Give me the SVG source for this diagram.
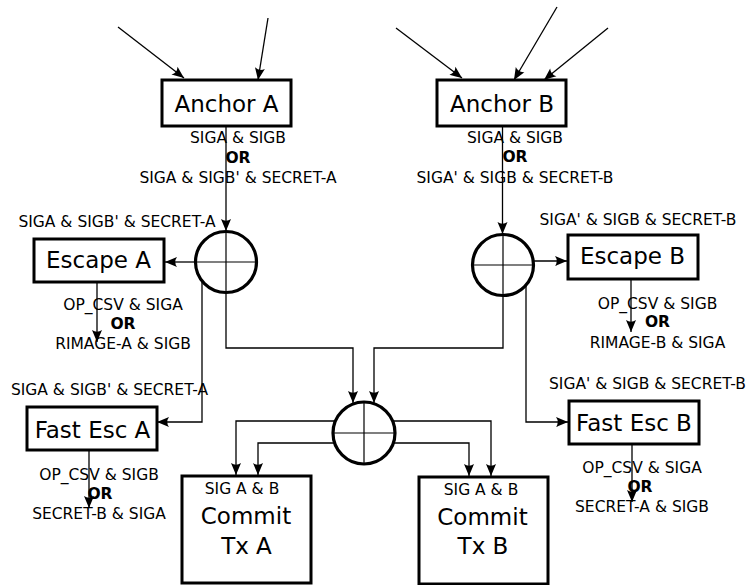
<svg xmlns="http://www.w3.org/2000/svg" width="749" height="585" viewBox="0 0 749 585">
<style>
.box{fill:#fff;stroke:#000;stroke-width:3}
.circ{fill:none;stroke:#000;stroke-width:3.2}
.cross{stroke:#000;stroke-width:1.2;fill:none}
.c{fill:none;stroke:#000;stroke-width:1.3}
.t{font-family:"DejaVu Sans",sans-serif;font-size:23px;text-anchor:middle;fill:#000}
.l{font-family:"DejaVu Sans",sans-serif;font-size:15.5px;text-anchor:middle;fill:#000}
.b{font-weight:bold}
</style>
<defs>
<marker id="ah" markerUnits="userSpaceOnUse" markerWidth="14" markerHeight="12" refX="12" refY="5" orient="auto" overflow="visible">
<path d="M0,0 Q6,2.5 12,5 Q6,7.5 0,10 Q3.5,5 0,0 Z" fill="#000"/>
</marker>
</defs>
<g id="connectors" class="c" marker-end="url(#ah)">
<path d="M118,27 L184,78"/>
<path d="M268,18 L258,80"/>
<path d="M396,28 L462,78"/>
<path d="M557,7 L514,80"/>
<path d="M608,28 L544,80"/>
<path d="M226,126 L226,231"/>
<path d="M502.5,126 L502.5,234"/>
<path d="M195,262 L165,262"/>
<path d="M534,261 L567,261"/>
<path d="M97,282 L97,342"/>
<path d="M631,279 L631,332"/>
<path d="M202,281 L202,422 L157,422"/>
<path d="M526,286 L526,422 L568,422"/>
<path d="M226,293 L226,348 L353,348 L353,403"/>
<path d="M503,296 L503,348 L374,348 L374,403"/>
<path d="M89,451 L89,508"/>
<path d="M632,444 L632,502"/>
<path d="M335,421 L236,421 L236,475"/>
<path d="M335,443 L258,443 L258,475"/>
<path d="M393,421 L491,421 L491,476"/>
<path d="M393,443 L469,443 L469,476"/>
</g>
<g id="anchorA"><rect class="box" x="162" y="80" width="129" height="46"/><text class="t" x="226.5" y="112">Anchor A</text></g>
<g id="anchorB"><rect class="box" x="437" y="80" width="129" height="46"/><text class="t" x="502" y="112">Anchor B</text></g>
<g id="circleA"><circle class="circ" cx="226" cy="262" r="30.5"/><path class="cross" d="M226,231.5 V292.5 M195.5,262 H256.5"/></g>
<g id="circleB"><circle class="circ" cx="503" cy="265" r="30.5"/><path class="cross" d="M503,234.5 V295.5 M472.5,265 H533.5"/></g>
<g id="circleC"><circle class="circ" cx="364" cy="433" r="31"/><path class="cross" d="M364,402 V464 M333,433 H395"/></g>
<g id="escapeA"><rect class="box" x="34" y="239" width="130" height="43"/><text class="t" x="98.5" y="268">Escape A</text></g>
<g id="escapeB"><rect class="box" x="568" y="235" width="130" height="44"/><text class="t" x="632.5" y="263.5">Escape B</text></g>
<g id="fastEscA"><rect class="box" x="27" y="407" width="130" height="43"/><text class="t" x="92.5" y="437.5">Fast Esc A</text></g>
<g id="fastEscB"><rect class="box" x="569" y="401" width="130" height="43"/><text class="t" x="634" y="430.5">Fast Esc B</text></g>
<g id="commitA"><rect class="box" x="182" y="476" width="129" height="107"/><text class="l" x="242" y="493.5">SIG A &amp; B</text><text class="t" x="246" y="523.5">Commit</text><text class="t" x="246.5" y="553.5">Tx A</text></g>
<g id="commitB"><rect class="box" x="419" y="477" width="129" height="107"/><text class="l" x="481" y="495">SIG A &amp; B</text><text class="t" x="482.5" y="525">Commit</text><text class="t" x="483" y="553.5">Tx B</text></g>
<g id="labels">
<text class="l" x="238" y="143">SIGA &amp; SIGB</text>
<text class="l b" x="238" y="162.5">OR</text>
<text class="l" x="238" y="182.5">SIGA &amp; SIGB' &amp; SECRET-A</text>
<text class="l" x="515" y="143">SIGA &amp; SIGB</text>
<text class="l b" x="515" y="162">OR</text>
<text class="l" x="515" y="182.5">SIGA' &amp; SIGB &amp; SECRET-B</text>
<text class="l" x="117" y="226.5">SIGA &amp; SIGB' &amp; SECRET-A</text>
<text class="l" x="638" y="225">SIGA' &amp; SIGB &amp; SECRET-B</text>
<text class="l" x="123" y="310">OP_CSV &amp; SIGA</text>
<text class="l b" x="123" y="329">OR</text>
<text class="l" x="123" y="349">RIMAGE-A &amp; SIGB</text>
<text class="l" x="657.5" y="309">OP_CSV &amp; SIGB</text>
<text class="l b" x="657.5" y="327">OR</text>
<text class="l" x="657.5" y="347.5">RIMAGE-B &amp; SIGA</text>
<text class="l" x="109.5" y="395">SIGA &amp; SIGB' &amp; SECRET-A</text>
<text class="l" x="647.5" y="388.5">SIGA' &amp; SIGB &amp; SECRET-B</text>
<text class="l" x="99" y="480">OP_CSV &amp; SIGB</text>
<text class="l b" x="100" y="499">OR</text>
<text class="l" x="99" y="519">SECRET-B &amp; SIGA</text>
<text class="l" x="642" y="473">OP_CSV &amp; SIGA</text>
<text class="l b" x="640" y="492">OR</text>
<text class="l" x="642" y="512">SECRET-A &amp; SIGB</text>
</g>
</svg>
